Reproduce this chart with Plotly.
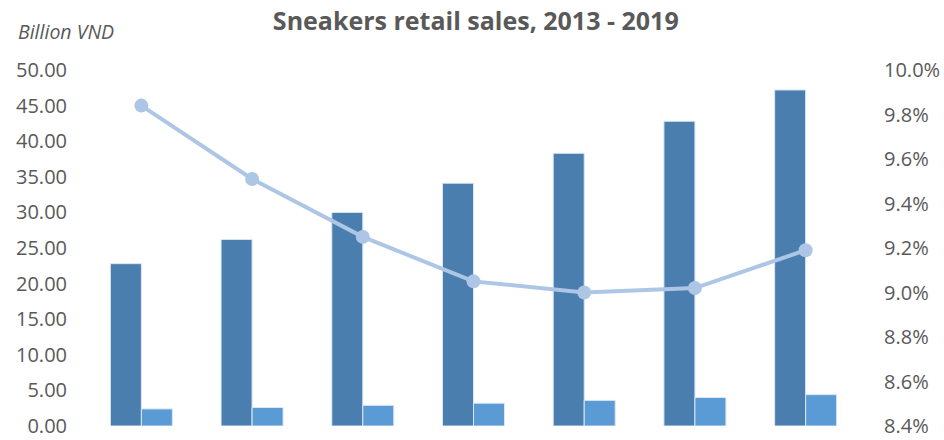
import plotly.graph_objects as go

# Sneakers retail sales by year (billion VND) and growth rate (%)
years = ["2013", "2014", "2015", "2016", "2017", "2018", "2019"]
retail_sales = [22.8, 26.2, 30.0, 34.1, 38.3, 42.8, 47.2]
secondary_sales = [2.4, 2.6, 2.9, 3.2, 3.6, 4.0, 4.4]
growth_rate = [9.84, 9.51, 9.25, 9.05, 9.00, 9.02, 9.19]

left_ticks = [0, 5, 10, 15, 20, 25, 30, 35, 40, 45, 50]
right_ticks = [8.4, 8.6, 8.8, 9.0, 9.2, 9.4, 9.6, 9.8, 10.0]

FONT = "Open Sans"
TEXT = "#595959"

fig = go.Figure()
fig.add_trace(go.Bar(
    x=years, y=retail_sales, name="Retail sales",
    marker=dict(color="#4a7eaf", line=dict(color="#dbe6f2", width=1)),
))
fig.add_trace(go.Bar(
    x=years, y=secondary_sales, name="Sales",
    marker=dict(color="#5b9bd5", line=dict(color="#dbe6f2", width=1)),
))
fig.add_trace(go.Scatter(
    x=years, y=growth_rate, name="Growth", yaxis="y2",
    mode="lines+markers",
    line=dict(color="#aec6e5", width=4),
    marker=dict(color="#aec6e5", size=14),
))

fig.update_layout(
    width=944, height=440,
    margin=dict(l=86, r=83, t=70, b=14),
    paper_bgcolor="white", plot_bgcolor="white",
    barmode="group", bargap=0.44, bargroupgap=0,
    showlegend=False,
    font=dict(family=FONT, color=TEXT, size=16),
    title=dict(
        text="<b>Sneakers retail sales, 2013 - 2019</b>",
        x=0.504, xanchor="center", y=0.952, yanchor="middle",
        font=dict(family=FONT, size=25, color=TEXT),
    ),
    xaxis=dict(showticklabels=False, showgrid=False, zeroline=False,
               showline=False, ticks="", automargin=False),
    yaxis=dict(range=[0, 50], tickvals=left_ticks,
               ticktext=[f"{v:.2f}" for v in left_ticks],
               showgrid=False, zeroline=False, showline=False,
               ticklabelstandoff=18, ticklabeloverflow="allow",
               automargin=False, tickfont=dict(size=20)),
    yaxis2=dict(range=[8.4, 10.0], tickvals=right_ticks,
                ticktext=[f"{v:.1f}%" for v in right_ticks],
                overlaying="y", side="right",
                showgrid=False, zeroline=False, showline=False,
                ticklabelstandoff=22, ticklabeloverflow="allow",
                automargin=False, tickfont=dict(size=20)),
    annotations=[dict(
        text="<i>Billion VND</i>", xref="paper", yref="paper",
        x=-0.0903, y=1.107, xanchor="left", yanchor="middle",
        showarrow=False, font=dict(family=FONT, size=19.5, color=TEXT),
    )],
)

fig.write_html("out.html")
